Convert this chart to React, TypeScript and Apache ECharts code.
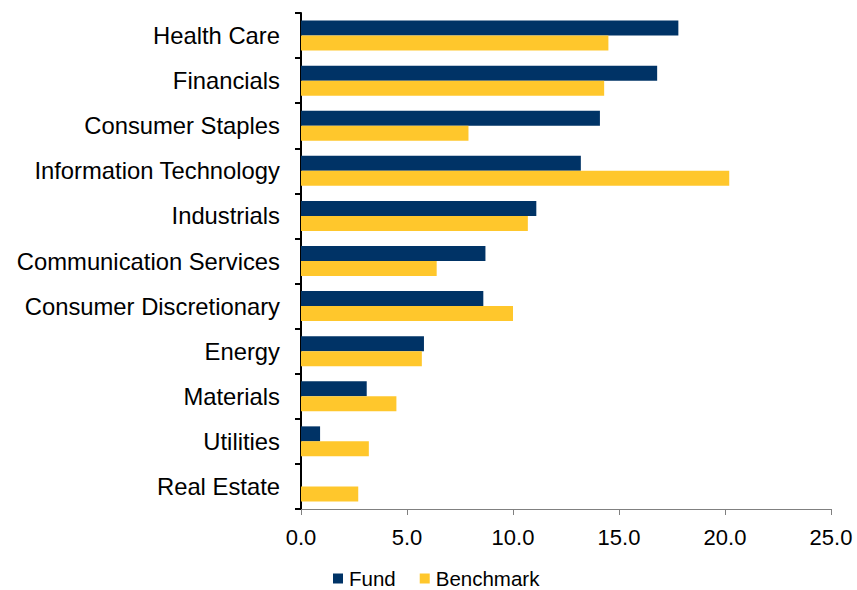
import React, { useEffect, useRef } from "react";
import * as echarts from "echarts";

const categories = [
  "Health Care",
  "Financials",
  "Consumer Staples",
  "Information Technology",
  "Industrials",
  "Communication Services",
  "Consumer Discretionary",
  "Energy",
  "Materials",
  "Utilities",
  "Real Estate",
];
const fundValues = [17.8, 16.8, 14.1, 13.2, 11.1, 8.7, 8.6, 5.8, 3.1, 0.9, 0];
const benchmarkValues = [14.5, 14.3, 7.9, 20.2, 10.7, 6.4, 10.0, 5.7, 4.5, 3.2, 2.7];
const seriesNames = ["Fund", "Benchmark"];
const FONT = "'Liberation Sans', Arial, sans-serif";

export default function App() {
  const ref = useRef<HTMLDivElement>(null);
  useEffect(() => {
    if (!ref.current) return;
    const chart = echarts.init(ref.current, undefined, { renderer: "svg" });
    chart.setOption({
      animation: false,
      backgroundColor: "#ffffff",
      grid: { left: 301, top: 13, width: 530, height: 496, containLabel: false },
      legend: {
        data: seriesNames,
        left: 333,
        top: 568,
        padding: 0,
        itemWidth: 10,
        itemHeight: 10,
        itemGap: 24,
        icon: "rect",
        textStyle: { fontFamily: FONT, fontSize: 20.5, lineHeight: 21, color: "#000", padding: [0, 0, 0, 1] },
      },
      xAxis: {
        type: "value",
        min: 0,
        max: 25,
        interval: 5,
        axisLine: { show: true, lineStyle: { color: "#808080", width: 1 } },
        axisTick: { show: true, length: 6, lineStyle: { color: "#808080", width: 1 } },
        splitLine: { show: false },
        axisLabel: {
          formatter: (v: number) => v.toFixed(1),
          fontFamily: FONT,
          fontSize: 22,
          color: "#000",
          margin: 17,
        },
      },
      yAxis: {
        type: "category",
        data: categories,
        inverse: true,
        axisLine: { show: true, lineStyle: { color: "#000", width: 2 } },
        axisTick: { show: true, length: 6, lineStyle: { color: "#000", width: 2 } },
        axisLabel: { fontFamily: FONT, fontSize: 23.8, color: "#000", margin: 21 },
      },
      series: [
        {
          name: seriesNames[0],
          type: "bar",
          data: fundValues,
          barWidth: 15,
          barGap: "0%",
          itemStyle: { color: "#003366" },
        },
        {
          name: seriesNames[1],
          type: "bar",
          data: benchmarkValues,
          barWidth: 15,
          barGap: "0%",
          itemStyle: { color: "#FFC72C" },
        },
      ],
    });
    return () => chart.dispose();
  }, []);
  return <div ref={ref} style={{ width: 857, height: 590, position: "absolute", left: 0, top: 0 }} />;
}
